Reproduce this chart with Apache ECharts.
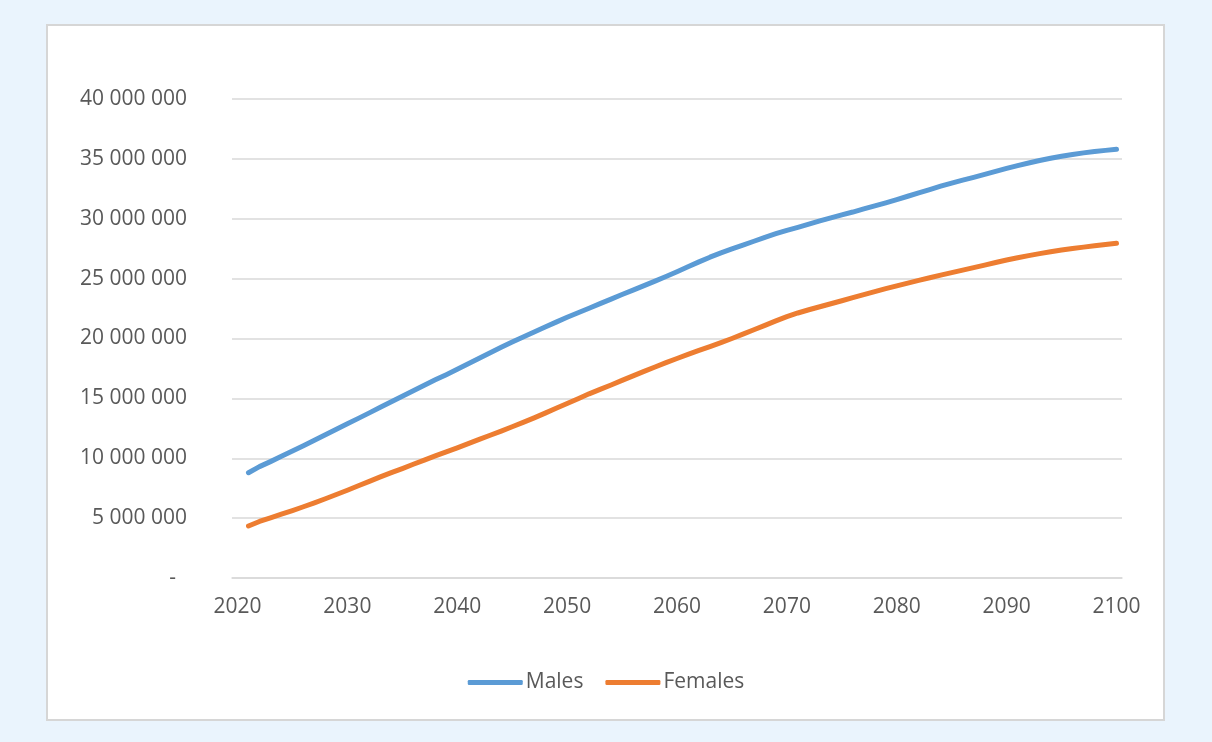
<!DOCTYPE html>
<html>
<head>
<meta charset="utf-8">
<title>Population projection by sex, 2020–2100</title>
<script src="https://cdn.jsdelivr.net/npm/echarts@6/dist/echarts.min.js"></script>
<style>
  html, body { margin: 0; padding: 0; background: #eaf4fd; }
  #chart { width: 1212px; height: 742px; }
</style>
</head>
<body>
<div id="chart"></div>
<script>
// Years on the category axis (2020 slot is empty; projections start in 2021)
const years = [];
for (let y = 2020; y <= 2100; y++) years.push(String(y));

// Projected male population, 2021–2100
const males = [
  null,
  8790000, 9300000, 9720000, 10160000, 10600000, 11050000, 11500000, 11970000, 12430000, 12880000,
  13330000, 13790000, 14250000, 14720000, 15180000, 15640000, 16100000, 16550000, 16980000, 17430000,
  17890000, 18350000, 18810000, 19260000, 19700000, 20120000, 20540000, 20960000, 21370000, 21770000,
  22150000, 22530000, 22910000, 23290000, 23670000, 24040000, 24420000, 24790000, 25180000, 25580000,
  25990000, 26400000, 26790000, 27150000, 27480000, 27800000, 28120000, 28450000, 28750000, 29030000,
  29280000, 29550000, 29820000, 30080000, 30330000, 30560000, 30820000, 31070000, 31330000, 31600000,
  31880000, 32160000, 32440000, 32720000, 32980000, 33220000, 33460000, 33700000, 33950000, 34200000,
  34440000, 34660000, 34860000, 35050000, 35220000, 35370000, 35500000, 35610000, 35710000, 35800000
];

// Projected female population, 2021–2100
const females = [
  null,
  4340000, 4720000, 5030000, 5330000, 5630000, 5950000, 6280000, 6620000, 6970000, 7330000,
  7700000, 8070000, 8440000, 8800000, 9140000, 9500000, 9850000, 10200000, 10530000, 10870000,
  11220000, 11570000, 11920000, 12270000, 12630000, 12990000, 13370000, 13770000, 14170000, 14570000,
  14970000, 15380000, 15750000, 16120000, 16500000, 16880000, 17250000, 17620000, 17980000, 18330000,
  18670000, 19000000, 19330000, 19660000, 20000000, 20360000, 20730000, 21100000, 21470000, 21820000,
  22130000, 22400000, 22650000, 22900000, 23150000, 23410000, 23670000, 23920000, 24160000, 24400000,
  24630000, 24850000, 25070000, 25290000, 25500000, 25710000, 25920000, 26130000, 26350000, 26550000,
  26740000, 26920000, 27090000, 27250000, 27390000, 27520000, 27630000, 27740000, 27850000, 27950000
];

const seriesNames = ['Males', 'Females'];
const seriesColors = ['#5b9bd5', '#ed7d31'];

const textColor = '#595959';
const gridColor = '#d9d9d9';
const fontFamily = '"Open Sans", "Liberation Sans", sans-serif';

// Thousands separated by spaces; zero shown as a dash
function formatValue(v) {
  if (v === 0) return '{z|-}';
  return String(v).replace(/\B(?=(\d{3})+(?!\d))/g, ' ');
}

const chart = echarts.init(document.getElementById('chart'), null, { renderer: 'canvas' });

chart.setOption({
  backgroundColor: '#eaf4fd',
  animation: false,
  textStyle: { fontFamily: fontFamily, color: textColor },
  graphic: [{
    type: 'rect',
    z: -10,
    shape: { x: 47, y: 25, width: 1117, height: 695 },
    style: { fill: '#ffffff', stroke: '#d6d6d6', lineWidth: 2 }
  }],
  grid: { left: 232, right: 90, top: 99, bottom: 164, containLabel: false },
  legend: {
    data: seriesNames,
    left: 'center',
    top: 667,
    itemWidth: 55,
    itemHeight: 5,
    itemGap: 22,
    icon: 'roundRect',
    textStyle: { fontSize: 21, color: textColor, fontFamily: fontFamily, padding: [0, 0, 0, -2] }
  },
  xAxis: {
    type: 'category',
    data: years,
    boundaryGap: true,
    axisLine: { show: true, lineStyle: { color: gridColor, width: 1.5 } },
    axisTick: { show: false },
    splitLine: { show: false },
    axisLabel: {
      interval: 9,
      margin: 19,
      fontSize: 21,
      color: textColor,
      fontFamily: fontFamily
    }
  },
  yAxis: {
    type: 'value',
    min: 0,
    max: 40000000,
    interval: 5000000,
    axisLine: { show: false },
    axisTick: { show: false },
    splitLine: { show: true, lineStyle: { color: gridColor, width: 1.5 } },
    axisLabel: {
      margin: 45,
      fontSize: 21,
      color: textColor,
      fontFamily: fontFamily,
      formatter: formatValue,
      rich: { z: { fontSize: 21, color: textColor, fontFamily: fontFamily, padding: [0, 11, 0, 0] } }
    }
  },
  series: [
    {
      name: seriesNames[0],
      type: 'line',
      data: males,
      symbol: 'none',
      color: seriesColors[0],
      lineStyle: { width: 5, color: seriesColors[0], cap: 'round', join: 'round' }
    },
    {
      name: seriesNames[1],
      type: 'line',
      data: females,
      symbol: 'none',
      color: seriesColors[1],
      lineStyle: { width: 5, color: seriesColors[1], cap: 'round', join: 'round' }
    }
  ]
});
</script>
</body>
</html>
